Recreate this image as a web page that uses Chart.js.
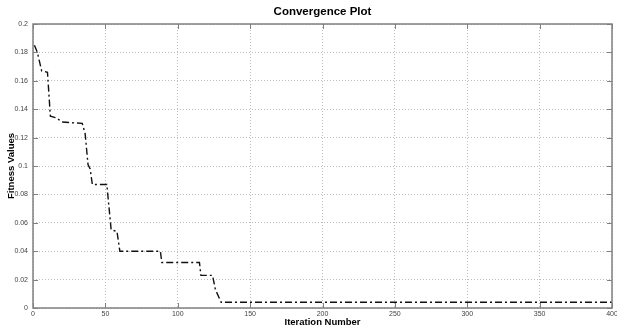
<!DOCTYPE html>
<html>
<head>
<meta charset="utf-8">
<script src="https://cdn.jsdelivr.net/npm/chart.js@4.4.0/dist/chart.umd.min.js"></script>
<style>
  html, body { margin: 0; padding: 0; background: #fff; }
  #wrap { width: 617px; height: 329px; }
</style>
</head>
<body>
<div id="wrap"><canvas id="conv"></canvas></div>
<script>
// values
const iterations = [1, 3, 6, 10, 12, 16, 20, 34, 36, 38, 39.5, 41, 51, 54, 58, 60, 88, 89, 115, 116, 124, 126, 130, 400];
const fitness = [0.185, 0.180, 0.167, 0.166, 0.135, 0.134, 0.131, 0.130, 0.123, 0.101, 0.098, 0.087, 0.087, 0.055, 0.054, 0.040, 0.040, 0.032, 0.032, 0.023, 0.023, 0.013, 0.004, 0.004];
const xTicks = [0, 50, 100, 150, 200, 250, 300, 350, 400];
const yTicks = [0, 0.02, 0.04, 0.06, 0.08, 0.1, 0.12, 0.14, 0.16, 0.18, 0.2];

const titleText = 'Convergence Plot';
const xTitle = 'Iteration Number';
const yTitle = 'Fitness Values';

const points = iterations.map((it, i) => ({ x: it, y: fitness[i] }));

// MATLAB-style box, inward ticks and titles
const frame = {
  id: 'frame',
  afterDraw(chart) {
    const { ctx, chartArea: a, scales } = chart;
    ctx.save();
    ctx.strokeStyle = '#808080';
    ctx.lineWidth = 1.5;
    ctx.strokeRect(a.left, a.top, a.right - a.left, a.bottom - a.top);
    ctx.lineWidth = 1;
    ctx.beginPath();
    xTicks.forEach(v => {
      const px = Math.round(scales.x.getPixelForValue(v)) + 0.5;
      ctx.moveTo(px, a.bottom); ctx.lineTo(px, a.bottom - 5);
      ctx.moveTo(px, a.top); ctx.lineTo(px, a.top + 5);
    });
    yTicks.forEach(v => {
      const py = Math.round(scales.y.getPixelForValue(v)) + 0.5;
      ctx.moveTo(a.left, py); ctx.lineTo(a.left + 5, py);
      ctx.moveTo(a.right, py); ctx.lineTo(a.right - 5, py);
    });
    ctx.stroke();

    const cx = (a.left + a.right) / 2;
    ctx.fillStyle = '#000';
    ctx.textAlign = 'center';
    ctx.textBaseline = 'middle';
    ctx.font = 'bold 11.5px "Liberation Sans", Arial, sans-serif';
    ctx.fillText(titleText, cx, 12);
    ctx.font = 'bold 9.5px "Liberation Sans", Arial, sans-serif';
    ctx.fillText(xTitle, cx, 322);
    ctx.translate(11, (a.top + a.bottom) / 2);
    ctx.rotate(-Math.PI / 2);
    ctx.fillText(yTitle, 0, 0);
    ctx.restore();
  }
};

new Chart(document.getElementById('conv'), {
  type: 'line',
  data: {
    datasets: [{
      data: points,
      borderColor: '#111',
      borderWidth: 1.4,
      borderDash: [7, 3, 2, 3],
      pointRadius: 0,
      tension: 0,
      fill: false
    }]
  },
  options: {
    responsive: true,
    maintainAspectRatio: false,
    animation: false,
    layout: { padding: { top: 24, right: 5, left: 0, bottom: 0 } },
    plugins: { legend: { display: false }, tooltip: { enabled: false } },
    scales: {
      x: {
        type: 'linear',
        min: 0, max: 400,
        afterFit: s => { s.height = 21; s.paddingLeft = 0; s.paddingRight = 0; },
        afterBuildTicks: s => { s.ticks = xTicks.map(v => ({ value: v })); },
        grid: { color: '#bdbdbd', drawTicks: false },
        border: { display: false, dash: [1, 2] },
        ticks: { padding: 2, color: '#444', font: { size: 7, family: '"Liberation Sans", Arial, sans-serif' }, maxRotation: 0 }
      },
      y: {
        min: 0, max: 0.2,
        afterFit: s => { s.width = 33; s.paddingTop = 0; s.paddingBottom = 0; },
        afterBuildTicks: s => { s.ticks = yTicks.map(v => ({ value: v })); },
        grid: { color: '#bdbdbd', drawTicks: false },
        border: { display: false, dash: [1, 2] },
        ticks: { padding: 5, color: '#444', font: { size: 7, family: '"Liberation Sans", Arial, sans-serif' },
                 callback: v => String(+v.toFixed(2)) }
      }
    }
  },
  plugins: [frame]
});
</script>
</body>
</html>
